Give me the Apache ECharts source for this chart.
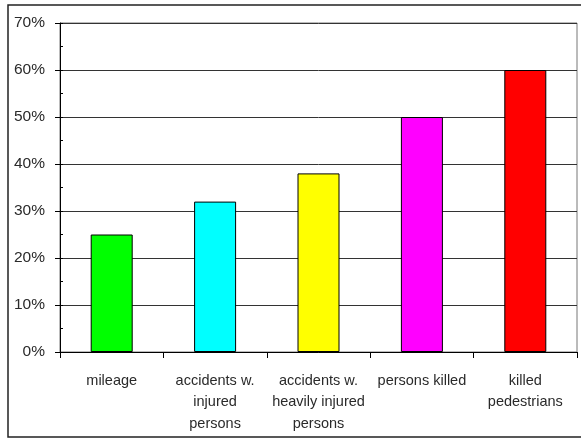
<!DOCTYPE html>
<html>
<head>
<meta charset="utf-8">
<script src="https://cdn.jsdelivr.net/npm/echarts@6/dist/echarts.min.js"></script>
<style>
  html, body { margin: 0; padding: 0; background: #fff; }
  #chart { width: 581px; height: 439px; }
</style>
</head>
<body>
<div id="chart"></div>
<script>
// Share of each group, in percent
const categories = [
  'mileage',
  'accidents w.\ninjured\npersons',
  'accidents w.\nheavily injured\npersons',
  'persons killed',
  'killed\npedestrians'
];
const shares = [25, 32, 38, 50, 60];
const barColors = ['#00ff00', '#00ffff', '#ffff00', '#ff00ff', '#ff0000'];

const yMin = 0, yMax = 70, yStep = 10, yMinorStep = 5;

const chart = echarts.init(document.getElementById('chart'), null, { renderer: 'canvas' });

const font = '"Liberation Sans", Arial, sans-serif';

chart.setOption({
  animation: false,
  backgroundColor: '#fff',
  graphic: [{
    type: 'rect',
    shape: { x: 8, y: 5, width: 590, height: 432 },
    style: { fill: 'none', stroke: '#222', lineWidth: 1.5 },
    z: 100
  }],
  grid: {
    left: 60, right: 4, top: 23, bottom: 87,
    show: true, borderColor: '#777', borderWidth: 1, backgroundColor: 'transparent'
  },
  xAxis: {
    type: 'category',
    data: categories,
    axisLine: { lineStyle: { color: '#000', width: 1 } },
    axisTick: { show: true, length: 6, lineStyle: { color: '#000' } },
    axisLabel: {
      color: '#2a2a2a', fontFamily: font, fontSize: 14.5, lineHeight: 21.5,
      margin: 18, interval: 0
    }
  },
  yAxis: [{
    type: 'value',
    min: yMin, max: yMax, interval: yStep,
    axisLine: { show: true, lineStyle: { color: '#000', width: 1 } },
    axisTick: { show: true, length: 5, lineStyle: { color: '#000' } },
    axisLabel: {
      formatter: '{value}%', color: '#2a2a2a', fontFamily: font, fontSize: 15.5, margin: 15
    },
    splitLine: { show: true, lineStyle: { color: '#333', width: 1 } }
  }, {
    // minor ticks pointing into the plot
    type: 'value',
    position: 'left',
    min: yMin, max: yMax, interval: yMinorStep,
    axisLine: { show: false },
    axisTick: { show: true, inside: true, length: 3, lineStyle: { color: '#000' } },
    axisLabel: { show: false },
    splitLine: { show: false }
  }],
  series: [{
    type: 'bar',
    data: shares.map((v, i) => ({
      value: v,
      itemStyle: { color: barColors[i] }
    })),
    barWidth: 42,
    itemStyle: { borderColor: '#000', borderWidth: 1 }
  }]
});
</script>
</body>
</html>
